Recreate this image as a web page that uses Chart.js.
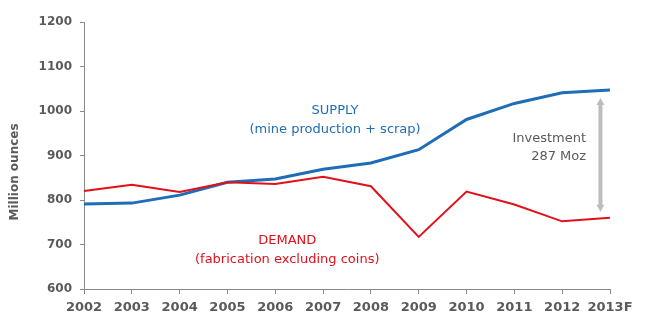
<!DOCTYPE html>
<html>
<head>
<meta charset="utf-8">
<script src="https://cdn.jsdelivr.net/npm/chart.js@4"></script>
<style>
  html, body { margin: 0; padding: 0; background: #fff; }
  #wrap { width: 650px; height: 322px; }
</style>
</head>
<body>
<div id="wrap"><canvas id="goldChart"></canvas></div>
<script>
// years on the x axis
const years = ['2002', '2003', '2004', '2005', '2006', '2007', '2008', '2009', '2010', '2011', '2012', '2013F'];
// supply: mine production + scrap (Moz)
const supply = [791, 793, 811, 840, 847, 869, 883, 913, 981, 1017, 1041, 1047];
// demand: fabrication excluding coins (Moz)
const demand = [820, 834, 818, 840, 836, 852, 831, 717, 819, 790, 752, 760];
const yTicks = [600, 700, 800, 900, 1000, 1100, 1200];

const blue = '#1f6cb7';
const red = '#e2101b';
const grey = '#5a5a5a';
const fontFamily = '"DejaVu Sans", Verdana, sans-serif';

// notes drawn onto the chart (text + investment arrow + axis title)
const notesPlugin = {
    id: 'notes',
    afterDatasetsDraw(chart) {
        const c = chart.ctx;
        const x = chart.scales.x;
        const y = chart.scales.y;
        c.save();
        c.font = '13px ' + fontFamily;
        c.textBaseline = 'middle';

        // supply label
        c.fillStyle = blue;
        c.textAlign = 'center';
        c.fillText('SUPPLY', x.getPixelForValue(5.25), y.getPixelForValue(1000));
        c.fillText('(mine production + scrap)', x.getPixelForValue(5.25), y.getPixelForValue(958));

        // demand label
        c.fillStyle = red;
        c.fillText('DEMAND', x.getPixelForValue(4.25), y.getPixelForValue(708));
        c.fillText('(fabrication excluding coins)', x.getPixelForValue(4.25), y.getPixelForValue(667));

        // investment gap
        c.fillStyle = grey;
        c.textAlign = 'right';
        c.fillText('Investment', x.getPixelForValue(10.5), y.getPixelForValue(937));
        c.fillText('287 Moz', x.getPixelForValue(10.5), y.getPixelForValue(897));

        const ax = x.getPixelForValue(10.8);
        const top = y.getPixelForValue(supply[11]) + 8;
        const bot = y.getPixelForValue(demand[11]) - 6;
        c.strokeStyle = '#bdbdbd';
        c.fillStyle = '#bdbdbd';
        c.lineWidth = 4;
        c.beginPath();
        c.moveTo(ax, top + 5);
        c.lineTo(ax, bot - 5);
        c.stroke();
        c.beginPath();
        c.moveTo(ax, top);
        c.lineTo(ax - 4, top + 7);
        c.lineTo(ax + 4, top + 7);
        c.closePath();
        c.fill();
        c.beginPath();
        c.moveTo(ax, bot);
        c.lineTo(ax - 4, bot - 7);
        c.lineTo(ax + 4, bot - 7);
        c.closePath();
        c.fill();

        // y axis title
        c.font = 'bold 12px ' + fontFamily;
        c.fillStyle = grey;
        c.textAlign = 'center';
        c.translate(15, y.getPixelForValue(863));
        c.rotate(-Math.PI / 2);
        c.fillText('Million ounces', 0, 0);
        c.restore();
    }
};

const ctx = document.getElementById('goldChart').getContext('2d');
new Chart(ctx, {
    type: 'line',
    data: {
        labels: years,
        datasets: [
            {
                label: 'Demand',
                data: demand,
                borderColor: red,
                borderWidth: 2,
                pointRadius: 0,
                tension: 0
            },
            {
                label: 'Supply',
                data: supply,
                borderColor: blue,
                borderWidth: 3,
                pointRadius: 0,
                tension: 0
            }
        ]
    },
    options: {
        responsive: true,
        maintainAspectRatio: false,
        animation: false,
        layout: { padding: { top: 22, right: 40, left: 0, bottom: 0 } },
        plugins: {
            legend: { display: false },
            tooltip: { enabled: false }
        },
        scales: {
            x: {
                offset: false,
                grid: { drawOnChartArea: false, drawTicks: true, tickLength: 5, color: '#8a8a8a' },
                border: { color: '#8a8a8a' },
                ticks: {
                    color: grey,
                    padding: 6,
                    maxRotation: 0,
                    autoSkip: false,
                    font: { family: fontFamily, size: 13, weight: 'bold' }
                },
                afterFit(s) { s.height = 33; }
            },
            y: {
                min: 600,
                max: 1200,
                afterBuildTicks(s) { s.ticks = yTicks.map(v => ({ value: v })); },
                grid: { drawOnChartArea: false, drawTicks: true, tickLength: 4, color: '#8a8a8a' },
                border: { color: '#8a8a8a' },
                ticks: {
                    color: grey,
                    padding: 8,
                    callback: v => String(v),
                    font: { family: fontFamily, size: 12, weight: 'bold' }
                },
                afterFit(s) { s.width = 84; }
            }
        }
    },
    plugins: [notesPlugin]
});
</script>
</body>
</html>
